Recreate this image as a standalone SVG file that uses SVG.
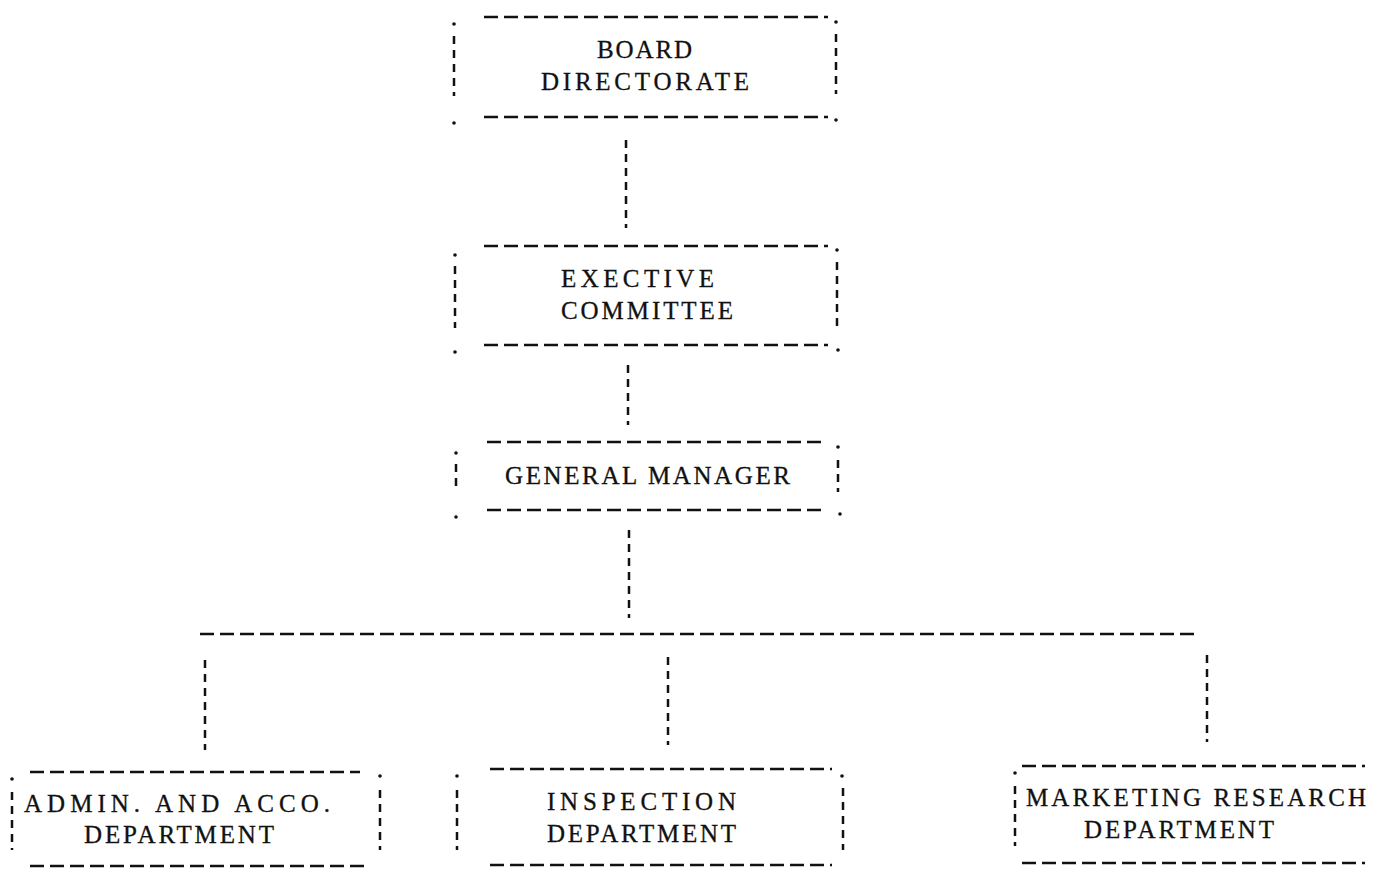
<svg xmlns="http://www.w3.org/2000/svg" width="1373" height="870" viewBox="0 0 1373 870">
<style>
.h{stroke:#111;stroke-width:2.5;stroke-dasharray:14 6;fill:none}
.v{stroke:#111;stroke-width:2.5;stroke-dasharray:8 6;fill:none}
.d{fill:#111}
text{font-family:"Liberation Serif","Times New Roman",serif;font-size:25px;fill:#111;stroke:#111;stroke-width:0.3}
</style>
<rect width="1373" height="870" fill="#fff"/>
<g id="connectors">
<line class="v" x1="626" y1="140" x2="626" y2="228"/>
<line class="v" x1="628" y1="365" x2="628" y2="425"/>
<line class="v" x1="629" y1="530" x2="629" y2="618"/>
<line class="h" x1="200" y1="634" x2="1195" y2="634"/>
<line class="v" x1="205" y1="660" x2="205" y2="750"/>
<line class="v" x1="668" y1="657" x2="668" y2="745"/>
<line class="v" x1="1207" y1="655" x2="1207" y2="742"/>
</g>
<g id="board">
<line class="h" x1="484" y1="17" x2="828" y2="17"/>
<line class="h" x1="484" y1="117" x2="828" y2="117"/>
<line class="v" x1="454" y1="36" x2="454" y2="96"/>
<line class="v" x1="836" y1="34" x2="836" y2="94"/>
<circle class="d" cx="454" cy="24" r="1.8"/><circle class="d" cx="454" cy="123" r="1.8"/>
<circle class="d" cx="836" cy="22" r="1.8"/><circle class="d" cx="836" cy="120" r="1.8"/>
<text x="597" y="58" textLength="95" lengthAdjust="spacing">BOARD</text>
<text x="541" y="90" textLength="208" lengthAdjust="spacing">DIRECTORATE</text>
</g>
<g id="executive">
<line class="h" x1="484" y1="246" x2="828" y2="246"/>
<line class="h" x1="484" y1="345" x2="828" y2="345"/>
<line class="v" x1="455" y1="266" x2="455" y2="328"/>
<line class="v" x1="837" y1="262" x2="837" y2="326"/>
<circle class="d" cx="455" cy="255" r="1.8"/><circle class="d" cx="455" cy="352" r="1.8"/>
<circle class="d" cx="837" cy="250" r="1.8"/><circle class="d" cx="838" cy="350" r="1.8"/>
<text x="561" y="287" textLength="153" lengthAdjust="spacing">EXECTIVE</text>
<text x="561" y="319" textLength="172" lengthAdjust="spacing">COMMITTEE</text>
</g>
<g id="general-manager">
<line class="h" x1="487" y1="442" x2="826" y2="442"/>
<line class="h" x1="487" y1="510" x2="826" y2="510"/>
<line class="v" x1="456" y1="464" x2="456" y2="492"/>
<line class="v" x1="838" y1="460" x2="838" y2="492"/>
<circle class="d" cx="456" cy="453" r="1.8"/><circle class="d" cx="456" cy="517" r="1.8"/>
<circle class="d" cx="838" cy="447" r="1.8"/><circle class="d" cx="840" cy="514" r="1.8"/>
<text x="505" y="484" textLength="285" lengthAdjust="spacing">GENERAL MANAGER</text>
</g>
<g id="admin">
<line class="h" x1="30" y1="772" x2="360" y2="772"/>
<line class="h" x1="30" y1="866" x2="370" y2="866"/>
<line class="v" x1="12" y1="792" x2="12" y2="850"/>
<line class="v" x1="380" y1="790" x2="380" y2="850"/>
<circle class="d" cx="12" cy="779" r="1.8"/><circle class="d" cx="380" cy="776" r="1.8"/>
<text x="24" y="812" textLength="306" lengthAdjust="spacing">ADMIN. AND ACCO.</text>
<text x="84" y="843" textLength="190" lengthAdjust="spacing">DEPARTMENT</text>
</g>
<g id="inspection">
<line class="h" x1="490" y1="769" x2="832" y2="769"/>
<line class="h" x1="490" y1="865" x2="832" y2="865"/>
<line class="v" x1="457" y1="790" x2="457" y2="850"/>
<line class="v" x1="843" y1="788" x2="843" y2="850"/>
<circle class="d" cx="457" cy="776" r="1.8"/><circle class="d" cx="842" cy="776" r="1.8"/>
<text x="547" y="810" textLength="189" lengthAdjust="spacing">INSPECTION</text>
<text x="547" y="842" textLength="189" lengthAdjust="spacing">DEPARTMENT</text>
</g>
<g id="marketing">
<line class="h" x1="1022" y1="766" x2="1365" y2="766"/>
<line class="h" x1="1022" y1="863" x2="1365" y2="863"/>
<line class="v" x1="1015" y1="786" x2="1015" y2="846"/>
<circle class="d" cx="1015" cy="773" r="1.8"/>
<text x="1026" y="806" textLength="340" lengthAdjust="spacing">MARKETING RESEARCH</text>
<text x="1084" y="838" textLength="190" lengthAdjust="spacing">DEPARTMENT</text>
</g>
</svg>
